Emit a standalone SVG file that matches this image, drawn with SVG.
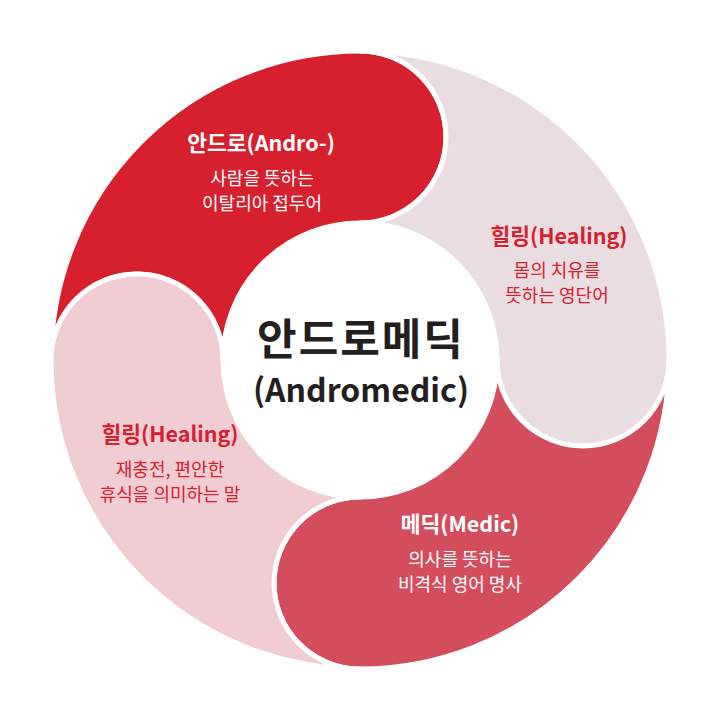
<svg xmlns="http://www.w3.org/2000/svg" width="720" height="720" viewBox="0 0 720 720">
<style>
.seg{stroke:#fff;stroke-width:5;stroke-linejoin:round}
.t{font-family:"Noto Sans CJK KR","Noto Sans",sans-serif;text-anchor:middle}
.h{font-size:21.5px;font-weight:700}
.s{font-size:18px;font-weight:400}
.w{fill:#fff}
.r{fill:#D7202E}
</style>
<defs>
<path id="petal" d="M51,360 A309,309 0 0 1 360,51 A86,86 0 0 1 360,223 A137,137 0 0 0 223,360 A86,86 0 0 0 51,360 Z"/>
</defs>
<rect width="720" height="720" fill="#fff"/>
<g id="connectors"></g>
<g id="node-andro">
<use href="#petal" class="seg" fill="#D7202E"/>
<text class="t h w" x="261" y="151">안드로(Andro-)</text>
<text class="t s w" x="262" y="185">사람을 뜻하는</text>
<text class="t s w" x="262" y="210">이탈리아 접두어</text>
</g>
<g id="node-healing-right">
<use href="#petal" class="seg" fill="#EADDE1" transform="rotate(90 360 360)"/>
<text class="t h r" x="559" y="244">힐링(Healing)</text>
<text class="t s r" x="557" y="277">몸의 치유를</text>
<text class="t s r" x="557" y="302">뜻하는 영단어</text>
</g>
<g id="node-medic">
<use href="#petal" class="seg" fill="#D44D5C" transform="rotate(180 360 360)"/>
<text class="t h w" x="460" y="532">메딕(Medic)</text>
<text class="t s w" x="460" y="566">의사를 뜻하는</text>
<text class="t s w" x="460" y="591">비격식 영어 명사</text>
</g>
<g id="node-healing-left">
<use href="#petal" class="seg" fill="#F0CDD3" transform="rotate(270 360 360)"/>
<text class="t h r" x="170" y="442">힐링(Healing)</text>
<text class="t s r" x="170" y="476">재충전, 편안한</text>
<text class="t s r" x="170" y="501">휴식을 의미하는 말</text>
</g>
<g id="node-center">
<text class="t" x="361" y="355" font-size="43" font-weight="700" fill="#231F20" letter-spacing="2">안드로메딕</text>
<text class="t" x="361" y="402" font-size="32" font-weight="700" fill="#231F20">(Andromedic)</text>
</g>
</svg>
